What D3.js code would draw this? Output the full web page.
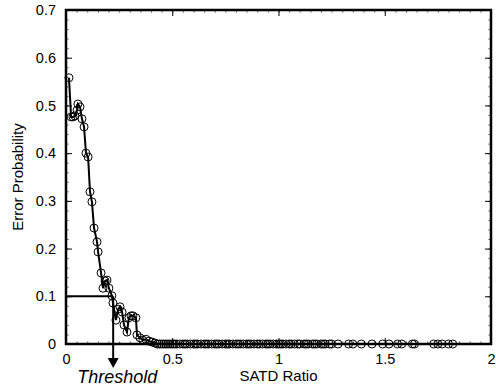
<!DOCTYPE html>
<html>
<head>
<meta charset="utf-8">
<script src="https://cdn.jsdelivr.net/npm/d3@7"></script>
<style>
  body { margin: 0; background: #fff; }
  svg { display: block; font-family: "Liberation Sans", Arial, sans-serif; }
  .axis path { display: none; }
  .axis line { stroke: #000; }
  .minor line { stroke: #555; }
</style>
</head>
<body>
<div id="chart"></div>
<script>
var svgWidth = 496;
var svgHeight = 391;
var margin = { top: 10, right: 5, bottom: 47, left: 66 };
var width = svgWidth - margin.left - margin.right;
var height = svgHeight - margin.top - margin.bottom;

// SATD ratio (x) and error probability (y)
var ratio = [0.014, 0.024, 0.033, 0.042, 0.052, 0.056, 0.066, 0.075, 0.085, 0.094,
  0.104, 0.113, 0.122, 0.132, 0.146, 0.151, 0.165, 0.174, 0.184, 0.193,
  0.202, 0.216, 0.221, 0.235, 0.245, 0.254, 0.264, 0.273, 0.287, 0.296,
  0.306, 0.315, 0.329, 0.334, 0.348, 0.362, 0.376, 0.391, 0.405, 0.419,
  0.43, 0.44, 0.45, 0.46, 0.47, 0.48, 0.49, 0.50, 0.51, 0.52,
  0.535, 0.55, 0.56, 0.57, 0.585, 0.60, 0.61, 0.62, 0.635, 0.65,
  0.66, 0.67, 0.685, 0.70, 0.71, 0.72, 0.735, 0.75, 0.76, 0.77,
  0.785, 0.80, 0.81, 0.82, 0.835, 0.85, 0.86, 0.87, 0.885, 0.90,
  0.91, 0.925, 0.94, 0.95, 0.96, 0.975, 0.99, 1.0, 1.01, 1.02,
  1.035, 1.05, 1.06, 1.075, 1.09, 1.10, 1.12, 1.13, 1.14, 1.16,
  1.17, 1.18, 1.20, 1.21, 1.22, 1.24, 1.25, 1.28, 1.33, 1.35,
  1.39, 1.44, 1.49, 1.52, 1.56, 1.58, 1.63, 1.64, 1.73, 1.75,
  1.77, 1.80, 1.82];
var errProb = [0.558, 0.476, 0.476, 0.478, 0.490, 0.503, 0.497, 0.472, 0.455, 0.400,
  0.392, 0.319, 0.298, 0.243, 0.214, 0.193, 0.149, 0.117, 0.132, 0.134,
  0.117, 0.101, 0.086, 0.050, 0.073, 0.078, 0.067, 0.040, 0.025, 0.055,
  0.059, 0.059, 0.055, 0.019, 0.013, 0.008, 0.010, 0.006, 0.004, 0.002,
  0, 0, 0, 0, 0, 0, 0, 0, 0, 0,
  0, 0, 0, 0, 0, 0, 0, 0, 0, 0,
  0, 0, 0, 0, 0, 0, 0, 0, 0, 0,
  0, 0, 0, 0, 0, 0, 0, 0, 0, 0,
  0, 0, 0, 0, 0, 0, 0, 0, 0, 0,
  0, 0, 0, 0, 0, 0, 0, 0, 0, 0,
  0, 0, 0, 0, 0, 0, 0, 0, 0, 0,
  0, 0, 0, 0, 0, 0, 0, 0, 0, 0,
  0, 0, 0];

var xTicks = [0, 0.5, 1, 1.5, 2];
var yTicks = [0, 0.1, 0.2, 0.3, 0.4, 0.5, 0.6, 0.7];
var yTickLabels = ["0", "0.1", "0.2", "0.3", "0.4", "0.5", "0.6", "0.7"];
var threshold = { x: 0.222, y: 0.1 };

var svg = d3.select("#chart")
  .append("svg")
  .attr("width", svgWidth)
  .attr("height", svgHeight);
var chartGroup = svg.append("g")
  .attr("transform", `translate(${margin.left}, ${margin.top})`);

var xScale = d3.scaleLinear().domain([0, 2]).range([0, width]);
var yScale = d3.scaleLinear().domain([0, 0.7]).range([height, 0]);

// minor ticks (inside, all four sides)
chartGroup.append("g").attr("class", "axis minor")
  .attr("transform", `translate(0, ${height})`)
  .call(d3.axisBottom(xScale).ticks(40).tickSize(-2.5).tickFormat(""));
chartGroup.append("g").attr("class", "axis minor")
  .call(d3.axisTop(xScale).ticks(40).tickSize(-2.5).tickFormat(""));
chartGroup.append("g").attr("class", "axis minor")
  .call(d3.axisLeft(yScale).ticks(35).tickSize(-2.5).tickFormat(""));
chartGroup.append("g").attr("class", "axis minor")
  .attr("transform", `translate(${width}, 0)`)
  .call(d3.axisRight(yScale).ticks(35).tickSize(-2.5).tickFormat(""));

// major ticks + labels
chartGroup.append("g").attr("class", "axis")
  .attr("transform", `translate(0, ${height})`)
  .call(d3.axisBottom(xScale).tickValues(xTicks).tickSize(-6).tickPadding(10)
    .tickFormat(d3.format("")));
chartGroup.append("g").attr("class", "axis")
  .call(d3.axisLeft(yScale).tickValues(yTicks).tickSize(-6).tickPadding(10)
    .tickFormat((d, i) => yTickLabels[i]));
chartGroup.append("g").attr("class", "axis")
  .call(d3.axisTop(xScale).tickValues(xTicks).tickSize(-6).tickFormat(""));
chartGroup.append("g").attr("class", "axis")
  .attr("transform", `translate(${width}, 0)`)
  .call(d3.axisRight(yScale).tickValues(yTicks).tickSize(-6).tickFormat(""));

svg.selectAll(".axis text")
  .attr("font-family", "Liberation Sans, Arial, sans-serif")
  .attr("font-size", 14.5)
  .attr("fill", "#000");

// threshold guide
chartGroup.append("line")
  .attr("x1", xScale(0)).attr("x2", xScale(threshold.x))
  .attr("y1", yScale(threshold.y)).attr("y2", yScale(threshold.y))
  .attr("stroke", "#000").attr("stroke-width", 2);
chartGroup.append("line")
  .attr("x1", xScale(threshold.x)).attr("x2", xScale(threshold.x))
  .attr("y1", yScale(threshold.y)).attr("y2", height + 16)
  .attr("stroke", "#000").attr("stroke-width", 2);
chartGroup.append("path")
  .attr("d", `M${xScale(threshold.x) - 5.5},${height + 14} L${xScale(threshold.x) + 5.5},${height + 14} L${xScale(threshold.x)},${height + 24} Z`)
  .attr("fill", "#000");

// curve
var points = ratio.map((r, i) => [r, errProb[i]]);
var line = d3.line().x(d => xScale(d[0])).y(d => yScale(d[1]));
chartGroup.append("path")
  .datum(points)
  .attr("d", line)
  .attr("fill", "none")
  .attr("stroke", "#000")
  .attr("stroke-width", 2);

chartGroup.selectAll("circle.pt")
  .data(points)
  .enter()
  .append("circle")
  .attr("class", "pt")
  .attr("cx", d => xScale(d[0]))
  .attr("cy", d => yScale(d[1]))
  .attr("r", 4)
  .attr("fill", "none")
  .attr("stroke", "#000")
  .attr("stroke-width", 1);

// frame
chartGroup.append("rect")
  .attr("width", width).attr("height", height)
  .attr("fill", "none")
  .attr("stroke", "#000")
  .attr("stroke-width", 2.5);

// labels
chartGroup.append("text")
  .attr("transform", "rotate(-90)")
  .attr("x", -height / 2)
  .attr("y", -margin.left + 23)
  .attr("text-anchor", "middle")
  .attr("font-size", 15)
  .text("Error Probability");

chartGroup.append("text")
  .attr("x", width / 2)
  .attr("y", height + 37)
  .attr("text-anchor", "middle")
  .attr("font-size", 15)
  .text("SATD Ratio");

chartGroup.append("text")
  .attr("x", xScale(threshold.x) + 4)
  .attr("y", height + 39)
  .attr("text-anchor", "middle")
  .attr("font-size", 18)
  .attr("font-style", "italic")
  .text("Threshold");
</script>
</body>
</html>
